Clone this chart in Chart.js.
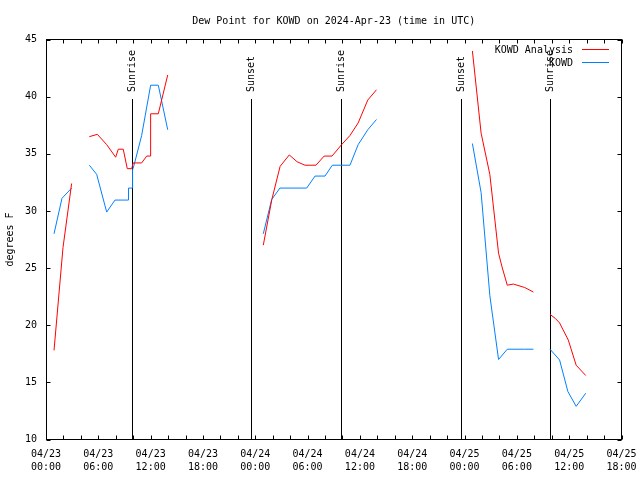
<!DOCTYPE html>
<html>
<head>
<meta charset="utf-8">
<script src="https://cdn.jsdelivr.net/npm/chart.js@4.4.1/dist/chart.umd.min.js"></script>
<style>
  html, body { margin: 0; padding: 0; background: #fff; }
  #wrap { width: 640px; height: 480px; }
</style>
</head>
<body>
<div id="wrap"><canvas id="dew" width="640" height="480"></canvas></div>
<script>
// ===== DATA =====
const titleText = 'Dew Point for KOWD on 2024-Apr-23 (time in UTC)';
const dayLabels = ['04/23', '04/24', '04/25'];

// hours since 04/23 00:00 UTC, null dew point = gap in the line
const analysisHours = [0.92, 1.95, 2.94, 4,
  4.97, 5.89, 6.96, 7.99, 8.29, 8.86, 9.32, 9.83, 10.0, 10.97, 11.55, 11.97, 12.0, 12.88, 13.96, 18,
  24.92, 25.9, 26.85, 27.9, 28.8, 29.7, 30.96, 31.9, 32.8, 33.9, 34.86, 35.8, 36.9, 37.9, 43,
  48.9, 49.9, 50.9, 51.9, 52.3, 52.9, 53.6, 54.9, 55.9, 57,
  57.8, 58.4, 58.9, 59.9, 60.8, 61.9];
const analysisDew = [17.8, 26.8, 32.4, null,
  36.5, 36.7, 35.8, 34.7, 35.4, 35.4, 33.7, 33.7, 34.2, 34.2, 34.8, 34.8, 38.5, 38.5, 41.9, null,
  27.0, 31.0, 33.9, 34.9, 34.3, 34.0, 34.0, 34.8, 34.8, 35.8, 36.6, 37.7, 39.7, 40.6, null,
  44.0, 36.8, 33.2, 26.3, 25.1, 23.5, 23.6, 23.3, 22.9, null,
  20.95, 20.6, 20.2, 18.7, 16.5, 15.6];

const obsHours = [0.92, 1.83, 2.94, 4,
  4.97, 5.81, 6.96, 7.91, 9.44, 9.46, 9.9, 9.93, 10.13, 10.97, 12.0, 12.88, 13.96, 18,
  24.92, 25.88, 26.83, 29.9, 30.85, 32.0, 32.83, 34.86, 35.8, 36.9, 37.9, 43,
  48.9, 49.9, 50.9, 51.9, 52.9, 53.9, 54.9, 55.9, 57,
  57.8, 58.9, 59.85, 60.8, 61.9];
const obsDew = [28.0, 31.1, 32.0, null,
  34.0, 33.2, 29.9, 30.95, 30.95, 32.0, 32.0, 33.6, 34.1, 36.6, 41.0, 41.0, 37.1, null,
  28.0, 31.0, 32.0, 32.0, 33.05, 33.05, 34.0, 34.0, 35.8, 37.1, 38.0, null,
  35.9, 31.6, 22.6, 17.0, 17.9, 17.9, 17.9, 17.9, null,
  17.9, 16.96, 14.2, 12.9, 14.05];

const sunHours = [9.85, 23.55, 33.83, 47.6, 57.8];
const sunLabels = ['Sunrise', 'Sunset', 'Sunrise', 'Sunset', 'Sunrise'];

const X_MIN = 0, X_MAX = 66, X_STEP = 6, X_MINOR = 2;
const Y_MIN = 10, Y_MAX = 45, Y_STEP = 5;

const FONT = { family: "'DejaVu Sans Mono', monospace", size: 10 };
const FONT_CSS = "10px 'DejaVu Sans Mono', monospace";

function toPoints(hours, vals) {
  return hours.map((h, i) => ({ x: h, y: vals[i] }));
}

// ===== GNUPLOT-STYLE FRAME, SUN LINES, LEGEND, TITLE =====
const gnuplotFrame = {
  id: 'gnuplotFrame',
  beforeDatasetsDraw(chart) {
    const { ctx, chartArea: a, scales: { x } } = chart;
    ctx.save();
    ctx.strokeStyle = '#000';
    ctx.fillStyle = '#000';
    ctx.lineWidth = 1;
    ctx.font = FONT_CSS;
    sunHours.forEach((h, i) => {
      const px = Math.round(x.getPixelForValue(h)) + 0.5;
      ctx.beginPath();
      ctx.moveTo(px, 99);
      ctx.lineTo(px, a.bottom);
      ctx.stroke();
      ctx.save();
      ctx.translate(px, 92);
      ctx.rotate(-Math.PI / 2);
      ctx.textAlign = 'left';
      ctx.textBaseline = 'middle';
      ctx.fillText(sunLabels[i], 0, 0);
      ctx.restore();
    });
    ctx.restore();
  },
  afterDatasetsDraw(chart) {
    const { ctx, chartArea: a, scales: { x, y } } = chart;
    const L = Math.floor(a.left) + 0.5, R = Math.floor(a.right) + 0.5;
    const T = Math.floor(a.top) + 0.5, B = Math.floor(a.bottom) + 0.5;
    ctx.save();
    ctx.strokeStyle = '#000';
    ctx.fillStyle = '#000';
    ctx.lineWidth = 1;
    ctx.strokeRect(L, T, R - L, B - T);
    ctx.beginPath();
    for (let h = X_MIN; h <= X_MAX; h += X_MINOR) {
      const px = Math.round(x.getPixelForValue(h)) + 0.5;
      ctx.moveTo(px, B); ctx.lineTo(px, B - 4);
      ctx.moveTo(px, T); ctx.lineTo(px, T + 4);
    }
    for (let v = Y_MIN; v <= Y_MAX; v += Y_STEP) {
      const py = Math.round(y.getPixelForValue(v)) + 0.5;
      ctx.moveTo(L, py); ctx.lineTo(L + 4, py);
      ctx.moveTo(R, py); ctx.lineTo(R - 4, py);
    }
    ctx.stroke();

    // title
    ctx.font = FONT_CSS;
    ctx.textAlign = 'center';
    ctx.textBaseline = 'middle';
    ctx.fillText(titleText, (a.left + a.right) / 2, 21);

    // legend
    ctx.textAlign = 'right';
    chart.data.datasets.forEach((ds, i) => {
      const ly = 50 + i * 13;
      ctx.fillStyle = '#000';
      ctx.fillText(ds.label, 573, ly);
      ctx.strokeStyle = ds.borderColor;
      ctx.beginPath();
      ctx.moveTo(582, ly - 0.5);
      ctx.lineTo(609, ly - 0.5);
      ctx.stroke();
    });
    ctx.restore();
  }
};

// ===== CHART =====
new Chart(document.getElementById('dew'), {
  type: 'line',
  data: {
    datasets: [{
      label: 'KOWD Analysis',
      data: toPoints(analysisHours, analysisDew),
      borderColor: '#ff0000',
      borderWidth: 1,
      pointRadius: 0,
      tension: 0,
      spanGaps: false,
    }, {
      label: 'KOWD',
      data: toPoints(obsHours, obsDew),
      borderColor: '#0080ff',
      borderWidth: 1,
      pointRadius: 0,
      tension: 0,
      spanGaps: false,
    }]
  },
  options: {
    responsive: false,
    animation: false,
    layout: { padding: { top: 39.5, right: 18.5, left: 0, bottom: 0 } },
    plugins: {
      legend: { display: false },
      tooltip: { enabled: false },
    },
    scales: {
      x: {
        type: 'linear',
        min: X_MIN,
        max: X_MAX,
        afterFit: (s) => { s.height = 40.5; s.paddingLeft = 0; s.paddingRight = 0; },
        grid: { display: false, drawTicks: false },
        border: { display: false },
        ticks: {
          stepSize: X_STEP,
          autoSkip: false,
          maxRotation: 0,
          padding: 8,
          color: '#000',
          font: { ...FONT, lineHeight: 1.35 },
          callback: (v) => [dayLabels[Math.floor(v / 24)], String(v % 24).padStart(2, '0') + ':00'],
        },
      },
      y: {
        min: Y_MIN,
        max: Y_MAX,
        afterFit: (s) => { s.width = 46; s.paddingTop = 0; s.paddingBottom = 0; },
        grid: { display: false, drawTicks: false },
        border: { display: false },
        ticks: {
          stepSize: Y_STEP,
          padding: 9,
          color: '#000',
          font: FONT,
        },
        title: {
          display: true,
          text: 'degrees F',
          color: '#000',
          font: FONT,
          padding: { top: 4, bottom: 0 },
        },
      },
    },
  },
  plugins: [gnuplotFrame],
});
</script>
</body>
</html>
